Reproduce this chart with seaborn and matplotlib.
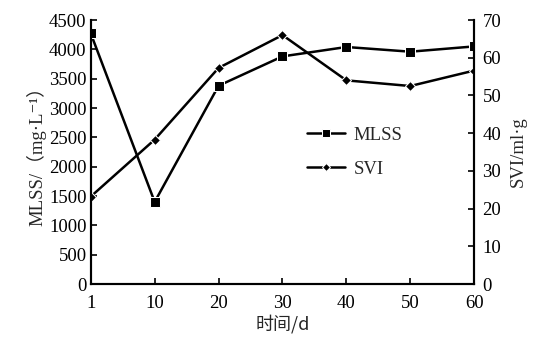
import matplotlib
matplotlib.use("Agg")
import matplotlib.pyplot as plt
import seaborn as sns
import pandas as pd
import numpy as np

days = ["1", "10", "20", "30", "40", "50", "60"]
mlss = [4270, 1400, 3380, 3880, 4040, 3960, 4050]
svi = [23.2, 38.3, 57.3, 66.0, 54.0, 52.5, 56.6]

sns.set_style("ticks")
plt.rcParams['font.family'] = ['Liberation Serif', 'DejaVu Serif', 'Noto Sans CJK SC']
plt.rcParams['xtick.direction'] = 'in'
plt.rcParams['ytick.direction'] = 'in'

df = pd.DataFrame({"pos": np.arange(len(days)), "MLSS": mlss, "SVI": svi})

fig = plt.figure(figsize=(5.34, 3.39), dpi=100)
ax = fig.add_axes([0.170, 0.162, 0.718, 0.779])
ax2 = ax.twinx()

sns.lineplot(data=df, x="pos", y="MLSS", ax=ax, color="black", marker="s",
             markersize=7, linewidth=1.8, label="MLSS", legend=False)
sns.lineplot(data=df, x="pos", y="SVI", ax=ax2, color="black", marker="D",
             markersize=5.5, linewidth=1.8, label="SVI", legend=False)

ax.set_xlim(0, len(days) - 1)
ax.set_xticks(np.arange(len(days)))
ax.set_xticklabels(days)
ax.set_ylim(0, 4500)
ax.set_yticks(np.arange(0, 4501, 500))
ax2.set_ylim(0, 70)
ax2.set_yticks(np.arange(0, 71, 10))

for a in (ax, ax2):
    a.tick_params(labelsize=13.5, length=4, width=1.2, colors="black")
    a.spines['top'].set_visible(False)
    for s in ('left', 'right', 'bottom'):
        a.spines[s].set_linewidth(1.5)
        a.spines[s].set_color("black")
ax2.spines['right'].set_visible(True)
ax.tick_params(axis='x', pad=8)
ax.tick_params(axis='y', pad=3)
ax2.tick_params(axis='y', pad=6)

ax.set_xlabel("时间/d", fontsize=13, family=['Noto Sans CJK SC', 'DejaVu Sans'], labelpad=2)
ax.set_ylabel("MLSS/（mg·L⁻¹）", fontsize=13.5, labelpad=2)
ax2.set_ylabel("SVI/ml·g", fontsize=13.5, labelpad=6)

h1, l1 = ax.get_legend_handles_labels()
h2, l2 = ax2.get_legend_handles_labels()
ax2.legend(h1 + h2, l1 + l2, loc="upper left", bbox_to_anchor=(0.52, 0.66),
           frameon=False, fontsize=13.5, handlelength=2.0, labelspacing=0.9,
           markerscale=0.8, handletextpad=0.5)

fig.savefig("out.png", dpi=100)
